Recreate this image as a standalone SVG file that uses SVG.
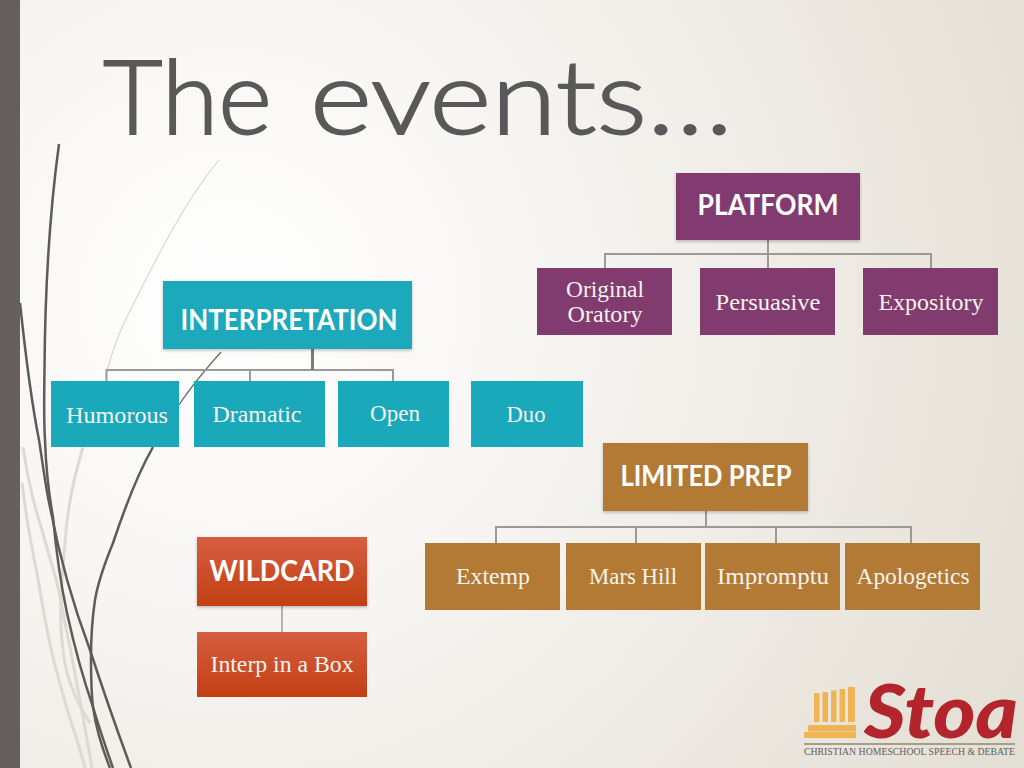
<svg xmlns="http://www.w3.org/2000/svg" width="1024" height="768" viewBox="0 0 1024 768">
<style>
.h{font-family:"Lato","Open Sans","Liberation Sans",sans-serif;font-weight:700;font-size:28px;fill:#fff;text-anchor:middle}
.b{font-family:"Liberation Serif","DejaVu Serif",serif;font-size:23.500px;fill:#f6f3ee;text-anchor:middle}
.p{fill:#823b6f}.t{fill:#1aa9bb}.o{fill:#b27a34}.r{fill:url(#red)}
.c{fill:none;stroke:#9c9a98;stroke-width:2}
.dk{fill:none;stroke:#5f5b58;stroke-width:2.500}
.lt{fill:none;stroke:#dcdad5;stroke-width:3}
</style>
<defs>
<radialGradient id="bg" gradientUnits="userSpaceOnUse" cx="230" cy="300" r="900">
<stop offset="0" stop-color="#ffffff"/><stop offset="0.3" stop-color="#f8f7f5"/><stop offset="1" stop-color="#e4dfd4"/>
</radialGradient>
<linearGradient id="red" x1="0" y1="0" x2="0" y2="1"><stop offset="0" stop-color="#d65e42"/><stop offset="1" stop-color="#c33f12"/></linearGradient>
<filter id="sh" x="-5%" y="-5%" width="110%" height="115%"><feDropShadow dx="0" dy="1.500" stdDeviation="1.500" flood-color="#000" flood-opacity="0.25"/></filter>
</defs>
<rect width="1024" height="768" fill="url(#bg)"/>
<g id="swooshes">
<path class="lt" d="M23 447C28 480 34 505 40 523C46 545 52 565 57 583C62 605 66 630 70 647C76 680 84 720 92 768"/>
<path class="lt" d="M22 483C26 515 31 545 37 573C43 610 50 648 57 673C63 695 70 720 77 740C80 750 83 760 85 768"/>
<path class="lt" d="M83 447C73 480 67 510 65 543C62 575 60 605 61 627C62 645 64 660 67 673C72 690 80 708 90 723"/>
<path d="M219 160C190 195 165 240 127 317C118 335 112 352 107 372" fill="none" stroke="#cfccc8" stroke-width="1"/>
<path class="dk" d="M59 144C50 210 45 290 44.500 370C44 400 44 425 45 440C46 470 49 495 53 517C56 550 61 585 67 613C74 645 83 678 93 707C99 727 106 748 113 768"/>
<path class="dk" d="M20 303C25 350 31 400 39 440C43 465 46 490 50 507C60 560 75 610 90 650C103 690 117 730 131 768"/>
<path d="M221 352C205 370 190 388 179 405" fill="none" stroke="#6a6664" stroke-width="1.200"/>
<path class="dk" d="M153 447C137 475 124 510 113 543C104 565 98 582 95 600C92 620 91 640 91 657C91 675 91 690 93 707C96 728 102 748 110 768"/>
</g>
<rect x="0" y="0" width="20" height="768" fill="#655f5f"/>
<text y="134" font-family="Lato,'Open Sans',sans-serif" font-weight="300" font-size="102" fill="#595959" stroke="#595959" stroke-width="1.800"><tspan x="103" textLength="169" lengthAdjust="spacingAndGlyphs">The</tspan> <tspan x="310" textLength="423" lengthAdjust="spacingAndGlyphs">events…</tspan></text>
<g id="connectors">
<path class="c" d="M768 240V254H605V268M768 254H931V268M768 254V268"/>
<path class="c" d="M106.500 381V370H393V381M250 370V381"/>
<path class="c" d="M312.500 349V370" style="stroke:#7d7b78;stroke-width:3"/>
<path class="c" d="M706 511V527H496V543M706 527H911V543M636 527V543M776 527V543"/>
<path class="c" d="M282 606V632" style="stroke:#b5b3af"/>
</g>
<g id="platform"><rect class="p" x="676" y="173" width="184" height="67" filter="url(#sh)"/><text class="h" x="768" y="215" textLength="141" lengthAdjust="spacingAndGlyphs">PLATFORM</text></g>
<g id="original-oratory"><rect class="p" x="537" y="268" width="135" height="67"/><text class="b" x="605" y="297" textLength="78" lengthAdjust="spacingAndGlyphs">Original</text><text class="b" x="605" y="322" textLength="75" lengthAdjust="spacingAndGlyphs">Oratory</text></g>
<g id="persuasive"><rect class="p" x="700" y="268" width="135" height="67"/><text class="b" x="768" y="310" textLength="105" lengthAdjust="spacingAndGlyphs">Persuasive</text></g>
<g id="expository"><rect class="p" x="863" y="268" width="135" height="67"/><text class="b" x="931" y="310" textLength="105" lengthAdjust="spacingAndGlyphs">Expository</text></g>
<g id="interpretation"><rect class="t" x="163" y="281" width="249" height="68" filter="url(#sh)"/><text class="h" x="289" y="330" textLength="217" lengthAdjust="spacingAndGlyphs">INTERPRETATION</text></g>
<g id="humorous"><rect class="t" x="51" y="381" width="128" height="66"/><text class="b" x="117" y="423" textLength="102" lengthAdjust="spacingAndGlyphs">Humorous</text></g>
<g id="dramatic"><rect class="t" x="194" y="381" width="131" height="66"/><text class="b" x="257" y="422" textLength="89" lengthAdjust="spacingAndGlyphs">Dramatic</text></g>
<g id="open"><rect class="t" x="338" y="381" width="111" height="66"/><text class="b" x="395" y="421" textLength="50" lengthAdjust="spacingAndGlyphs">Open</text></g>
<g id="duo"><rect class="t" x="471" y="381" width="112" height="66"/><text class="b" x="526" y="422" textLength="39" lengthAdjust="spacingAndGlyphs">Duo</text></g>
<g id="limited-prep"><rect class="o" x="603" y="443" width="205" height="68" filter="url(#sh)"/><text class="h" x="706" y="486" textLength="171" lengthAdjust="spacingAndGlyphs">LIMITED PREP</text></g>
<g id="extemp"><rect class="o" x="425" y="543" width="135" height="67"/><text class="b" x="493" y="584" textLength="74" lengthAdjust="spacingAndGlyphs">Extemp</text></g>
<g id="mars-hill"><rect class="o" x="566" y="543" width="135" height="67"/><text class="b" x="633" y="584" textLength="88" lengthAdjust="spacingAndGlyphs">Mars Hill</text></g>
<g id="impromptu"><rect class="o" x="705" y="543" width="135" height="67"/><text class="b" x="773" y="584" textLength="112" lengthAdjust="spacingAndGlyphs">Impromptu</text></g>
<g id="apologetics"><rect class="o" x="845" y="543" width="135" height="67"/><text class="b" x="913" y="584" textLength="113" lengthAdjust="spacingAndGlyphs">Apologetics</text></g>
<g id="wildcard"><rect class="r" x="197" y="537" width="170" height="69" filter="url(#sh)"/><text class="h" x="282" y="581" textLength="145" lengthAdjust="spacingAndGlyphs">WILDCARD</text></g>
<g id="interp-in-a-box"><rect class="r" x="197" y="632" width="170" height="65"/><text class="b" x="282" y="672" textLength="143" lengthAdjust="spacingAndGlyphs">Interp in a Box</text></g>
<g id="stoa-logo">
<g fill="#f0b455">
<path d="M814 693h5.500v29h-5.500zM822.500 692h5.500v30h-5.500zM831 690.500h5.500v31.500h-5.500zM839.500 689h5.500v33h-5.500zM848 687h7v35h-7z"/>
<rect x="808" y="725" width="48" height="6.500"/><rect x="804" y="732" width="52" height="6"/>
</g>
<text x="864" y="738" font-family="Lato,'Liberation Sans',sans-serif" font-weight="900" font-style="italic" font-size="74" fill="#b3242d" textLength="154" lengthAdjust="spacingAndGlyphs">Stoa</text>
<rect x="804" y="743" width="211" height="2" fill="#a59f86"/>
<text x="804" y="755" font-family="'Liberation Serif',serif" font-size="10" fill="#5f5f5a" textLength="211" lengthAdjust="spacingAndGlyphs">CHRISTIAN HOMESCHOOL SPEECH &amp; DEBATE</text>
</g>
</svg>
